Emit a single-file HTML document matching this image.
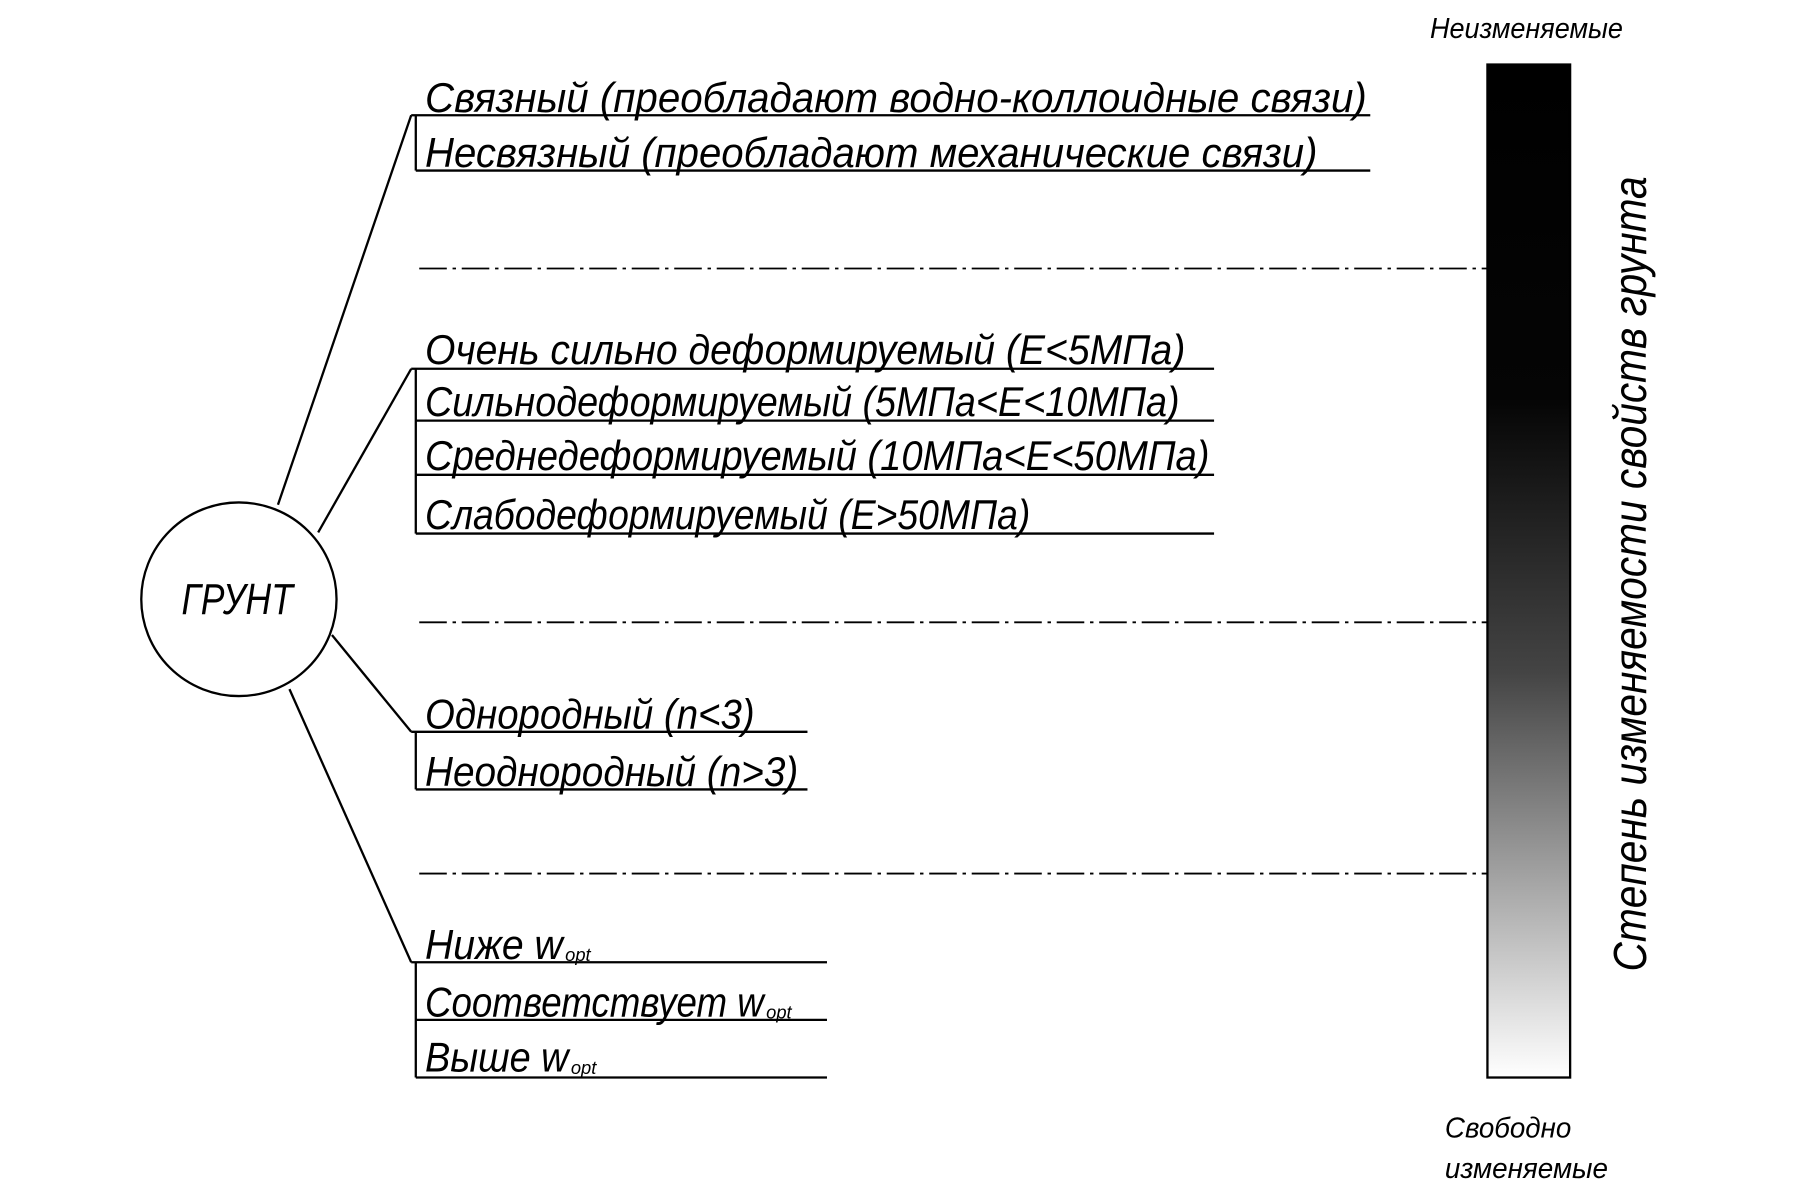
<!DOCTYPE html>
<html><head><meta charset="utf-8"><style>html,body{margin:0;padding:0;background:#fff}svg{display:block}</style></head>
<body>
<svg width="1801" height="1187" viewBox="0 0 1568 1030" preserveAspectRatio="none" xmlns="http://www.w3.org/2000/svg">
<defs>
<linearGradient id="g" x1="0" y1="0" x2="0" y2="1">
<stop offset="0" stop-color="#000"/><stop offset="0.33" stop-color="#050505"/><stop offset="0.6" stop-color="#444"/><stop offset="1" stop-color="#fff"/>
</linearGradient>
</defs>
<g stroke="#000" stroke-width="2" fill="none">
<ellipse cx="208" cy="520" rx="85" ry="84"/>
<line x1="242" y1="438" x2="358" y2="100"/>
<line x1="362" y1="100" x2="362" y2="148"/>
<line x1="358" y1="100" x2="1193" y2="100"/>
<line x1="362" y1="148" x2="1193" y2="148"/>
<line x1="277" y1="462" x2="358" y2="320"/>
<line x1="362" y1="320" x2="362" y2="463"/>
<line x1="358" y1="320" x2="1057" y2="320"/>
<line x1="362" y1="365" x2="1057" y2="365"/>
<line x1="362" y1="412" x2="1057" y2="412"/>
<line x1="362" y1="463" x2="1057" y2="463"/>
<line x1="289" y1="551" x2="358" y2="635"/>
<line x1="362" y1="635" x2="362" y2="685"/>
<line x1="358" y1="635" x2="703" y2="635"/>
<line x1="362" y1="685" x2="703" y2="685"/>
<line x1="252" y1="598" x2="358" y2="835"/>
<line x1="362" y1="835" x2="362" y2="935"/>
<line x1="358" y1="835" x2="720" y2="835"/>
<line x1="362" y1="885" x2="720" y2="885"/>
<line x1="362" y1="935" x2="720" y2="935"/>
<g stroke-width="1.6" stroke-dasharray="24,5,3,5">
<line x1="365" y1="233" x2="1295" y2="233"/>
<line x1="365" y1="540" x2="1295" y2="540"/>
<line x1="365" y1="758" x2="1295" y2="758"/>
</g>
<rect x="1295" y="56" width="72" height="879" fill="url(#g)"/>
</g>
<g font-family="'Liberation Sans', sans-serif" font-style="italic" fill="#000" font-size="36">
<text x="158" y="533" font-size="38" textLength="97" lengthAdjust="spacingAndGlyphs">ГРУНТ</text>
<text x="370" y="97" textLength="820" lengthAdjust="spacingAndGlyphs">Связный (преобладают водно-коллоидные связи)</text>
<text x="370" y="145" textLength="777" lengthAdjust="spacingAndGlyphs">Несвязный (преобладают механические связи)</text>
<text x="370" y="316" textLength="662" lengthAdjust="spacingAndGlyphs">Очень сильно деформируемый (Е&lt;5МПа)</text>
<text x="370" y="361" textLength="657" lengthAdjust="spacingAndGlyphs">Сильнодеформируемый (5МПа&lt;Е&lt;10МПа)</text>
<text x="370" y="408" textLength="683" lengthAdjust="spacingAndGlyphs">Среднедеформируемый (10МПа&lt;Е&lt;50МПа)</text>
<text x="370" y="459" textLength="527" lengthAdjust="spacingAndGlyphs">Слабодеформируемый (Е&gt;50МПа)</text>
<text x="370" y="632" textLength="287" lengthAdjust="spacingAndGlyphs">Однородный (n&lt;3)</text>
<text x="370" y="682" textLength="325" lengthAdjust="spacingAndGlyphs">Неоднородный (n&gt;3)</text>
<text x="370" y="832" textLength="120" lengthAdjust="spacingAndGlyphs">Ниже w</text>
<text x="492" y="834" font-size="16">opt</text>
<text x="370" y="882" textLength="295" lengthAdjust="spacingAndGlyphs">Соответствует w</text>
<text x="667" y="884" font-size="16">opt</text>
<text x="370" y="930" textLength="125" lengthAdjust="spacingAndGlyphs">Выше w</text>
<text x="497" y="932" font-size="16">opt</text>
<text x="1245" y="33" font-size="25" textLength="168" lengthAdjust="spacingAndGlyphs">Неизменяемые</text>
<text x="1258" y="987" font-size="25" textLength="110" lengthAdjust="spacingAndGlyphs">Свободно</text>
<text x="1258" y="1022" font-size="25" textLength="142" lengthAdjust="spacingAndGlyphs">изменяемые</text>
<text transform="translate(1433,843) rotate(-90)" font-size="40" textLength="690" lengthAdjust="spacingAndGlyphs">Степень изменяемости свойств грунта</text>
</g>
</svg>
</body></html>
